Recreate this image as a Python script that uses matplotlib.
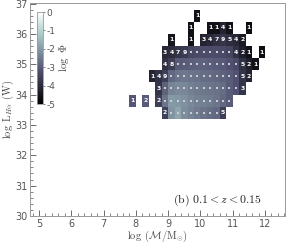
import numpy as np
import matplotlib
matplotlib.use('Agg')
import matplotlib.pyplot as plt
from matplotlib.ticker import MultipleLocator

plt.rcParams['mathtext.fontset'] = 'cm'

# bin centres
mass_bins = [7.9, 8.1, 8.3, 8.5, 8.7, 8.9, 9.1, 9.3, 9.5, 9.7, 9.9,
             10.1, 10.3, 10.5, 10.7, 10.9, 11.1, 11.3, 11.5, 11.7, 11.9]
lum_bins = [33.4, 33.8, 34.2, 34.6, 35.0, 35.4, 35.8, 36.2, 36.6]
dm, dl = 0.2, 0.4

n = np.nan
# log Phi per cell (rows bottom -> top, columns follow mass_bins)
log_phi = [
    [n, n, n, n, n, -3.5, -2.1, -1.8, -2.2, -2.35, -2.5, -2.6, -2.7, -2.8, -3.6, n, n, n, n, n, n],
    [-3.1, n, -3.0, n, -3.6, -2.6, -2.0, -2.05, -2.15, -2.3, -2.4, -2.45, -2.5, -2.6, -2.8, -3.0, n, n, n, n, n],
    [n, n, n, n, -3.8, -2.9, -2.35, -2.25, -2.3, -2.4, -2.5, -2.55, -2.6, -2.65, -2.75, -3.0, -3.2, -3.8, n, n, n],
    [n, n, n, -4.2, -3.9, -3.6, -2.8, -2.6, -2.55, -2.6, -2.65, -2.7, -2.75, -2.8, -2.9, -3.0, -3.2, -3.8, -4.2, n, n],
    [n, n, n, n, n, -3.9, -3.6, -3.05, -3.0, -2.95, -2.9, -2.9, -2.95, -3.0, -3.05, -3.2, -3.35, -3.9, -4.3, -4.6, n],
    [n, n, n, n, n, -4.1, -4.0, -3.8, -3.7, -3.4, -3.35, -3.3, -3.3, -3.3, -3.35, -3.45, -3.9, -4.3, -4.6, n, -4.7],
    [n, n, n, n, n, n, -4.5, n, n, -4.6, n, -4.2, -4.1, -3.9, -3.8, -4.0, -4.1, -4.4, n, n, n],
    [n, n, n, n, n, n, n, n, n, -4.6, n, n, -4.6, -4.6, -4.2, -4.6, n, n, -4.7, n, n],
    [n, n, n, n, n, n, n, n, n, n, -4.6, n, n, n, n, n, n, n, n, n, n],
]
# galaxy counts per cell ('.' = ten or more, '' = empty)
counts = [
    ['', '', '', '', '', '2', '.', '.', '.', '.', '.', '.', '.', '.', '5', '', '', '', '', '', ''],
    ['1', '', '2', '', '2', '.', '.', '.', '.', '.', '.', '.', '.', '.', '.', '.', '', '', '', '', ''],
    ['', '', '', '', '3', '.', '.', '.', '.', '.', '.', '.', '.', '.', '.', '.', '.', '3', '', '', ''],
    ['', '', '', '1', '4', '9', '.', '.', '.', '.', '.', '.', '.', '.', '.', '.', '.', '5', '2', '', ''],
    ['', '', '', '', '', '4', '8', '.', '.', '.', '.', '.', '.', '.', '.', '.', '.', '5', '2', '1', ''],
    ['', '', '', '', '', '3', '4', '7', '9', '.', '.', '.', '.', '.', '.', '.', '4', '2', '1', '', '1'],
    ['', '', '', '', '', '', '1', '', '', '1', '', '3', '4', '7', '9', '5', '4', '2', '', '', ''],
    ['', '', '', '', '', '', '', '', '', '1', '', '', '1', '1', '4', '1', '', '', '1', '', ''],
    ['', '', '', '', '', '', '', '', '', '', '1', '', '', '', '', '', '', '', '', '', ''],
]
cbar_ticks = [0, -1, -2, -3, -4, -5]
x_ticks = [5, 6, 7, 8, 9, 10, 11, 12]
y_ticks = [30, 31, 32, 33, 34, 35, 36, 37]

fig = plt.figure(figsize=(2.99, 2.43), dpi=100)
ax = fig.add_axes([30/299, 27/243, 255/299, 212.5/243])

xc = np.array(mass_bins)
yc = np.array(lum_bins)
xe = np.concatenate([xc - dm/2, [xc[-1] + dm/2]])
ye = np.concatenate([yc - dl/2, [yc[-1] + dl/2]])
Z = np.ma.masked_invalid(np.array(log_phi, dtype=float))
mesh = ax.pcolormesh(xe, ye, Z, cmap='bone', vmin=-5, vmax=0, shading='flat')

dx, dy = [], []
for i, row in enumerate(counts):
    for j, lab in enumerate(row):
        if lab == '.':
            dx.append(xc[j]); dy.append(yc[i])
        elif lab:
            ax.text(xc[j], yc[i], lab, ha='center', va='center', fontsize=4.4,
                    color='white', fontweight='bold', family='DejaVu Sans')
ax.scatter(dx, dy, s=1.1, marker='s', c='#c8ccd4', linewidths=0)

ax.set_xlim(4.72, 12.62)
ax.set_ylim(30, 37)
ax.set_xticks(x_ticks)
ax.set_yticks(y_ticks)
ax.xaxis.set_minor_locator(MultipleLocator(0.2))
ax.yaxis.set_minor_locator(MultipleLocator(0.2))
ax.tick_params(which='both', direction='in', top=False, right=False,
               colors='#555555', labelsize=7, pad=2)
ax.tick_params(which='major', length=4, width=0.6)
ax.tick_params(which='minor', length=2, width=0.5)
for s in ax.spines.values():
    s.set_color('#999999')
    s.set_linewidth(0.7)

ax.set_xlabel(r'$\log\ (\mathcal{M}/\mathrm{M}_{\odot})$', fontsize=7.5, color='#444444')
ax.set_ylabel(r'$\log\ \mathrm{L}_{H\alpha}\ (\mathrm{W})$', fontsize=7.5, color='#444444')
ax.xaxis.set_label_coords(0.5, -0.095)
ax.yaxis.set_label_coords(-0.084, 0.5)
ax.xaxis.label.set_va('center')
ax.yaxis.label.set_va('center')
ax.text(0.562, 0.075, r'$\mathrm{(b)}\ 0.1 < z < 0.15$', transform=ax.transAxes,
        fontsize=8.5, color='#222222', ha='left', va='center')

cax = fig.add_axes([37/299, (243-104)/243, 6/299, 92/243])
cb = fig.colorbar(mesh, cax=cax, ticks=cbar_ticks)
cb.ax.set_yticklabels([str(t).replace('\u2212', '-') for t in cbar_ticks])
cb.ax.tick_params(labelsize=6.5, colors='#555555', length=1.5, width=0.5, pad=1)
cb.outline.set_edgecolor('#999999')
cb.outline.set_linewidth(0.6)
cb.set_label(r'$\log\ \Phi$', fontsize=8, color='#444444', labelpad=1)

fig.savefig('out.png', dpi=100)
